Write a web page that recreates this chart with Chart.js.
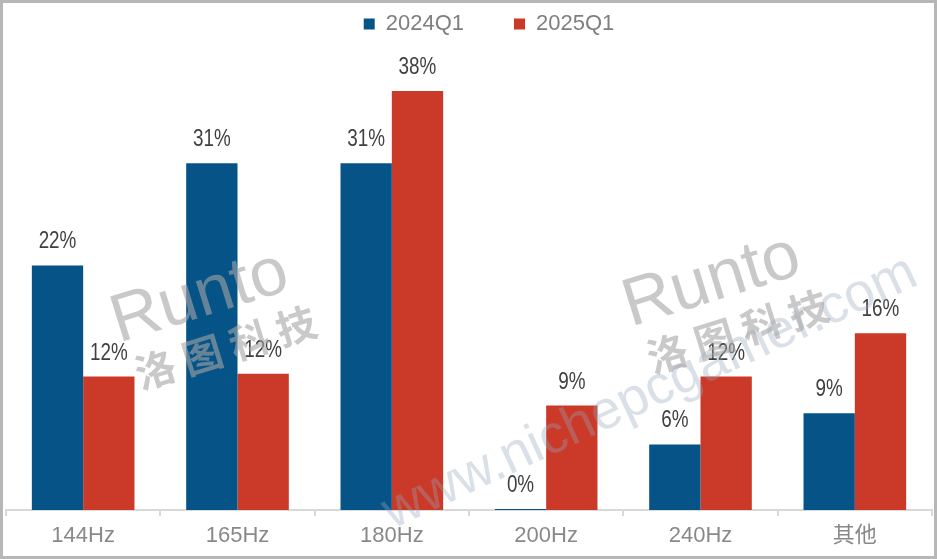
<!DOCTYPE html>
<html>
<head>
<meta charset="utf-8">
<script src="https://cdn.jsdelivr.net/npm/chart.js@4/dist/chart.umd.min.js"></script>
<style>
  html, body { margin: 0; padding: 0; background: #fff; }
  #wrap { width: 937px; height: 559px; position: relative; }
</style>
</head>
<body>
<div id="wrap"><canvas id="bar-chart" width="937" height="559"></canvas></div>
<script>
// data (labels show rounded percent)
var categories = ["144Hz", "165Hz", "180Hz", "200Hz", "240Hz", "其他"];
var series2024 = [22.0, 31.2, 31.2, 0.1, 5.9, 8.7];
var series2025 = [12.0, 12.25, 37.7, 9.4, 12.0, 15.9];
var seriesNames = ["2024Q1", "2025Q1"];

var blue = "#065487";
var red = "#CB3A28";

// white background + outer grey frame
var framePlugin = {
  id: "frame",
  beforeDraw: function (chart) {
    var ctx = chart.ctx;
    ctx.save();
    ctx.fillStyle = "#fff";
    ctx.fillRect(0, 0, chart.width, chart.height);
    ctx.strokeStyle = "#b7b7b7";
    ctx.lineWidth = 3;
    ctx.strokeRect(1.5, 1.5, chart.width - 3, chart.height - 3);
    ctx.restore();
  }
};

// nudge the legend: wide item gap but kept near the top edge
var legendNudge = {
  id: "legendNudge",
  afterLayout: function (chart) {
    var lg = chart.legend;
    lg.left += 20; lg.right += 20;
    lg.top -= 37; lg.bottom -= 37;
  }
};

// percent labels above bars (condensed look)
var labelPlugin = {
  id: "barLabels",
  afterDatasetsDraw: function (chart) {
    var ctx = chart.ctx;
    ctx.save();
    ctx.font = '23px "Liberation Sans", Arial, sans-serif';
    ctx.fillStyle = "#404040";
    ctx.textAlign = "center";
    ctx.textBaseline = "alphabetic";
    chart.data.datasets.forEach(function (ds, i) {
      chart.getDatasetMeta(i).data.forEach(function (bar, j) {
        ctx.save();
        ctx.translate(bar.x, bar.y - 17);
        ctx.scale(0.82, 1);
        ctx.fillText(Math.round(ds.data[j]) + "%", 0, 0);
        ctx.restore();
      });
    });
    ctx.restore();
  }
};

// faint watermark on top
var watermarkPlugin = {
  id: "watermark",
  afterDraw: function (chart) {
    var ctx = chart.ctx;
    ctx.save();
    ctx.textAlign = "center";
    ctx.textBaseline = "middle";

    ctx.save();
    ctx.translate(650, 393);
    ctx.rotate(-0.435);
    ctx.font = '54px "Liberation Sans", sans-serif';
    ctx.fillStyle = "rgba(150, 165, 185, 0.35)";
    ctx.fillText("www.nichepcgamer.com", 0, 0);
    ctx.restore();

    [[200, 298], [712, 282]].forEach(function (p) {
      ctx.save();
      ctx.translate(p[0], p[1]);
      ctx.rotate(-0.3);
      ctx.font = '68px "Liberation Sans", sans-serif';
      ctx.fillStyle = "rgba(165, 165, 165, 0.6)";
      ctx.fillText("Runto", 0, 0);
      ctx.font = 'bold 40px "Noto Sans CJK SC", sans-serif';
      ctx.fillText("洛 图 科 技", 10, 55);
      ctx.restore();
    });
    ctx.restore();
  }
};

new Chart(document.getElementById("bar-chart"), {
  type: "bar",
  data: {
    labels: categories,
    datasets: [
      { label: seriesNames[0], backgroundColor: blue, data: series2024 },
      { label: seriesNames[1], backgroundColor: red, data: series2025 }
    ]
  },
  options: {
    responsive: false,
    animation: false,
    devicePixelRatio: 1,
    datasets: { bar: { categoryPercentage: 0.665, barPercentage: 1.0 } },
    layout: { padding: { left: 6, right: 5, top: 0, bottom: 0 } },
    plugins: {
      legend: {
        position: "top",
        labels: {
          boxWidth: 11,
          boxHeight: 11,
          padding: 50,
          color: "#7f7f7f",
          font: { family: '"Liberation Sans", Arial, sans-serif', size: 22 }
        }
      },
      tooltip: { enabled: false },
      title: { display: false }
    },
    scales: {
      x: {
        grid: {
          display: true,
          offset: true,
          drawOnChartArea: false,
          drawTicks: true,
          tickLength: 6,
          color: "#d9d9d9",
          lineWidth: 2
        },
        border: { display: true, color: "#d9d9d9", width: 2 },
        ticks: {
          color: "#898989",
          padding: 7,
          font: { family: '"Liberation Sans", Arial, "Noto Sans CJK SC", sans-serif', size: 22 }
        },
        afterFit: function (scale) { scale.height = 49; }
      },
      y: {
        display: false,
        min: 0,
        max: 38.5
      }
    }
  },
  plugins: [framePlugin, legendNudge, labelPlugin, watermarkPlugin]
});
</script>
</body>
</html>
